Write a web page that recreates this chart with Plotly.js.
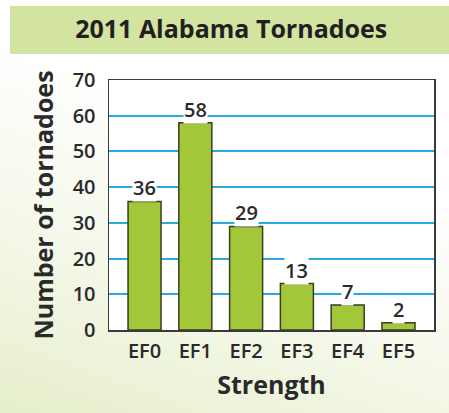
<!DOCTYPE html>
<html><head><meta charset="utf-8">
<script src="https://cdn.plot.ly/plotly-3.0.1.min.js"></script>
<style>
html,body{margin:0;padding:0;width:449px;height:413px;overflow:hidden;}
body{background:linear-gradient(200deg,#ffffff 0%,#ffffff 35%,#f3f7e6 70%,#e6efcb 100%);}
#banner{position:absolute;left:10px;top:6px;width:439px;height:48px;background:#d3e4a0;}
#chart{position:absolute;left:0;top:0;width:449px;height:413px;}
</style></head>
<body>
<div id="banner"></div>
<div id="chart"></div>
<script>
const categories = ["EF0","EF1","EF2","EF3","EF4","EF5"];
const counts = [36,58,29,13,7,2];
const yTicks = [0,10,20,30,40,50,60,70];

const font = "Open Sans, Noto Sans, sans-serif";
const dark = "#2a2a2a";

const trace = {
  type: "bar",
  x: categories,
  y: counts,
  width: 0.65,
  marker: {color: "#a2c83a", line: {color: "#3b3d22", width: 1.5}},
  hoverinfo: "none"
};

const annotations = categories.map((c,i)=>({
  x: c, y: counts[i], xref: "x", yref: "y",
  text: String(counts[i]), showarrow: false,
  yanchor: "bottom", yshift: -1,
  bgcolor: "#ffffff", borderpad: 0,
  font: {family: font, size: 20, color: dark, weight: 600}
}));

const layout = {
  width: 449, height: 413,
  paper_bgcolor: "rgba(0,0,0,0)",
  plot_bgcolor: "#ffffff",
  margin: {l:109, r:15, t:80, b:83},
  showlegend: false,
  title: {text: "<b>2011 Alabama Tornadoes</b>", x: 0.515, xanchor: "center", y: 0.928, yanchor: "middle",
          font: {family: font, size: 25, color: "#231f20"}},
  xaxis: {
    range: [-0.7, 5.7],
    tickfont: {family: font, size: 20, color: dark, weight: 600},
    ticklabelstandoff: 2,
    showline: true, linecolor: "#3a3a3a", linewidth: 1.5, mirror: true,
    ticks: "", showgrid: false, fixedrange: true,
    title: {text: "<b>Strength</b>", font: {family: font, size: 25, color: dark}, standoff: 14}
  },
  yaxis: {
    range: [0, 70],
    tickvals: yTicks,
    tickfont: {family: font, size: 20, color: dark, weight: 600},
    ticklabelstandoff: 8,
    showline: true, linecolor: "#3a3a3a", linewidth: 1.5, mirror: true,
    showgrid: true, gridcolor: "#29abe2", gridwidth: 2,
    zeroline: false, ticks: "", ticklen: 0, fixedrange: true,
    title: {text: "<b>Number of tornadoes</b>", font: {family: font, size: 25, color: dark}, standoff: 12}
  },
  annotations: annotations
};

Plotly.newPlot("chart", [trace], layout, {displayModeBar: false, staticPlot: true});
</script>
</body></html>
